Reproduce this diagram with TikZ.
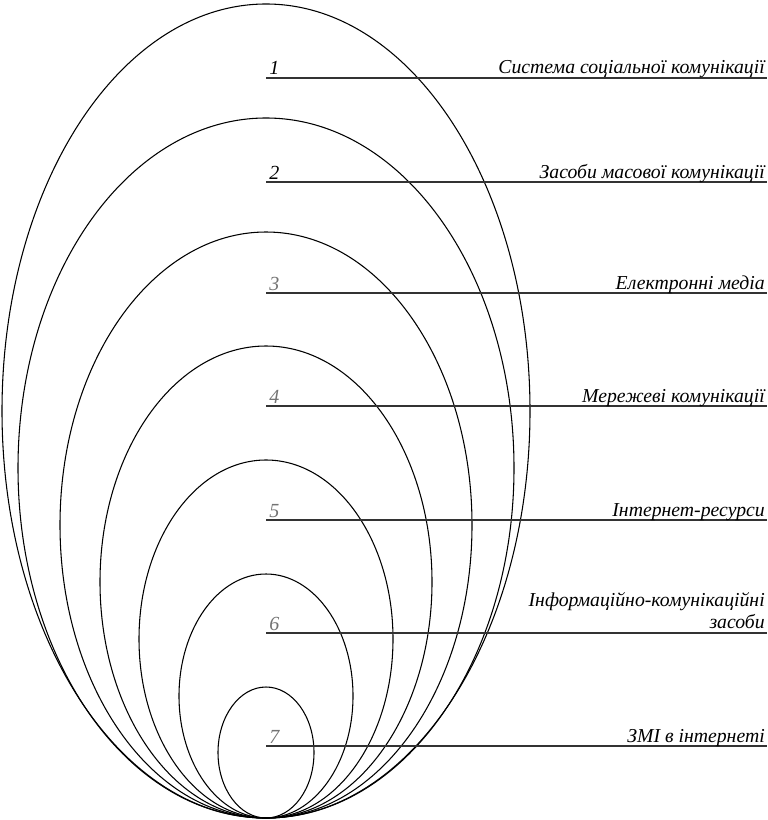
\documentclass[tikz,border=0pt]{standalone}
\usepackage{fontspec}
\setmainfont{Liberation Serif}[ItalicFont={Liberation Serif Italic}]
\usetikzlibrary{shapes.geometric}
\begin{document}
\begin{tikzpicture}[x=0.75pt,y=-0.75pt,
  ell/.style={draw=black,line width=0.8pt,ellipse,inner sep=0pt},
  lead/.style={draw=black!80,line width=1pt},
  lab/.style={font=\fontsize{14.8}{16.5}\selectfont\itshape,anchor=base east,inner sep=0pt,align=right},
  num/.style={font=\fontsize{15}{16}\selectfont\itshape,anchor=base west,inner sep=0pt},
  numg/.style={num,text=black!55}]
\useasboundingbox (0,0) rectangle (767,820);
\node[ell,minimum width=396pt,minimum height=610.5pt] (e1) at (266,411) {};
\node[ell,minimum width=372pt,minimum height=525pt] (e2) at (266,468) {};
\node[ell,minimum width=309pt,minimum height=439.5pt] (e3) at (266,525) {};
\node[ell,minimum width=249pt,minimum height=354pt] (e4) at (266,582) {};
\node[ell,minimum width=190.5pt,minimum height=268.5pt] (e5) at (266,639) {};
\node[ell,minimum width=130.5pt,minimum height=183pt] (e6) at (266,696) {};
\node[ell,minimum width=72pt,minimum height=98.25pt] (e7) at (266,752.5) {};
\foreach \i/\y in {1/78,2/182,3/293,4/406,5/520,6/633,7/746}{
  \coordinate (s\i) at (266,\y);
  \coordinate (t\i) at (767,\y);
  \draw[lead] (s\i) -- (t\i);
}
\node[num] (n1) at (269,75) {1};
\node[num] (n2) at (269,179) {2};
\node[numg] (n3) at (269,290) {3};
\node[numg] (n4) at (269,403) {4};
\node[numg] (n5) at (269,517) {5};
\node[numg] (n6) at (269,630) {6};
\node[numg] (n7) at (269,743) {7};
\node[lab] (l1) at (765,74) {Система соціальної комунікації};
\node[lab] (l2) at (765,178) {Засоби масової комунікації};
\node[lab] (l3) at (765,289) {Електронні медіа};
\node[lab] (l4) at (765,402) {Мережеві комунікації};
\node[lab] (l5) at (765,516) {Інтернет-ресурси};
\node[lab,anchor=south east] (l6) at (765,629) {Інформаційно-комунікаційні\\засоби};
\node[lab] (l7) at (765,742) {ЗМІ в інтернеті};
\end{tikzpicture}
\end{document}
